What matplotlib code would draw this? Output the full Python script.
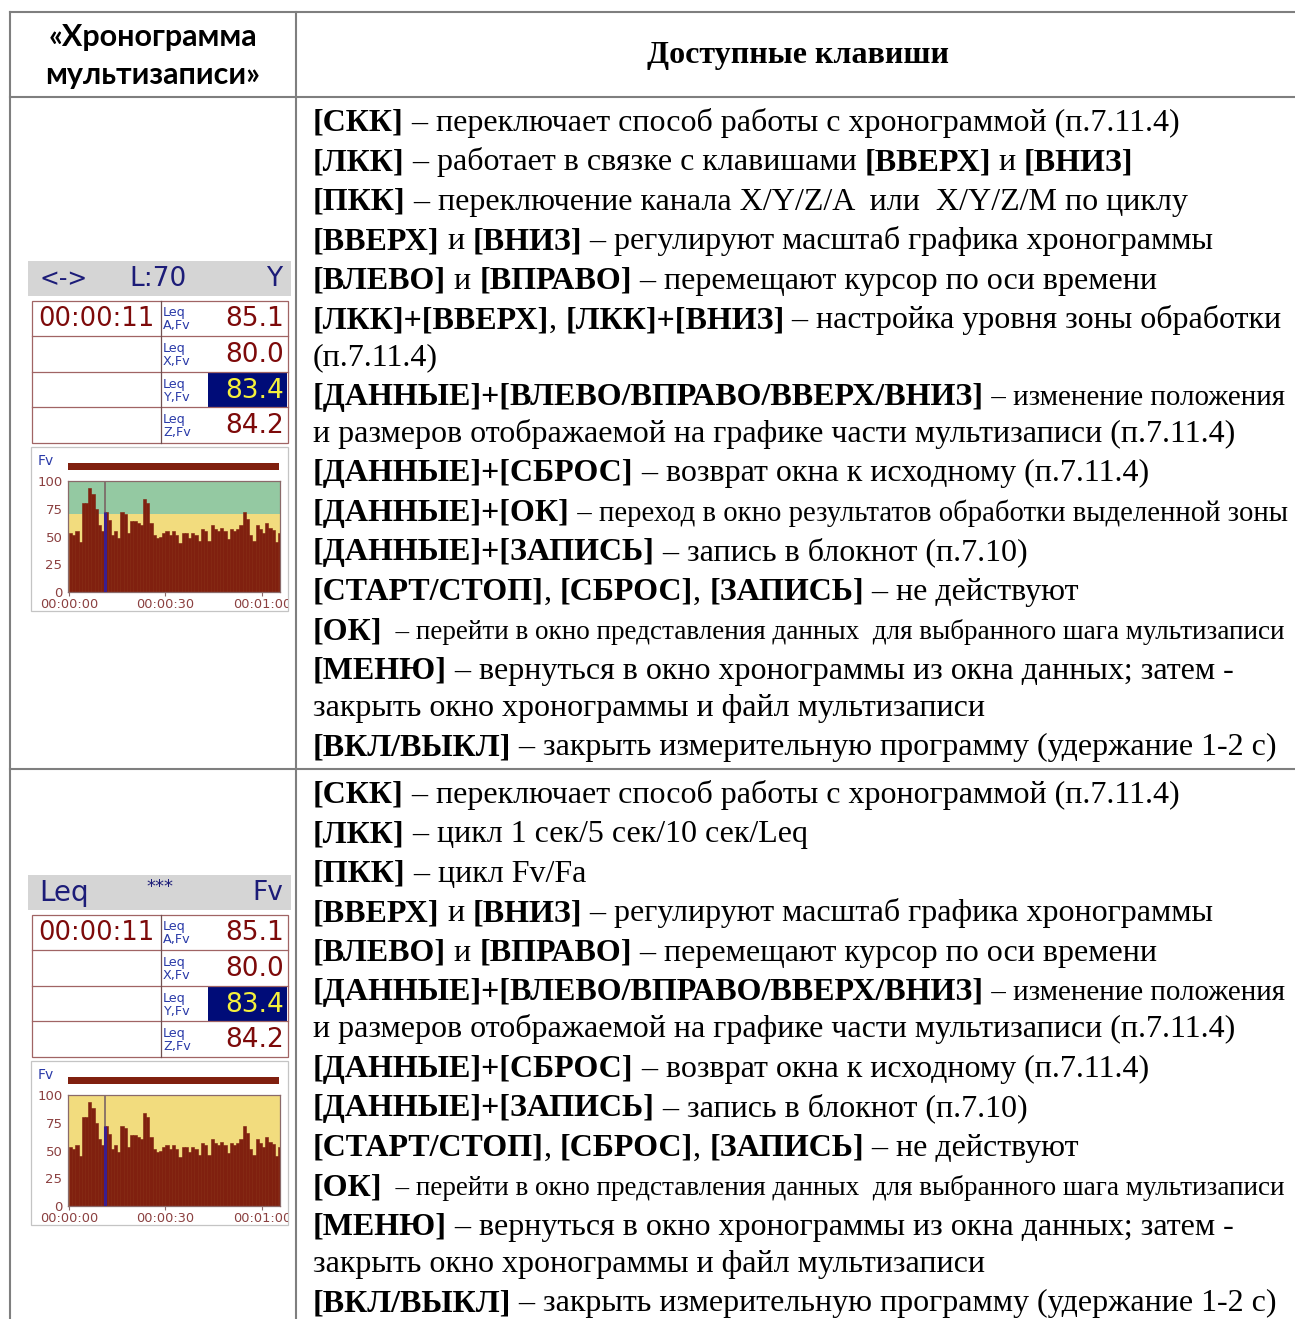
import matplotlib
matplotlib.use('Agg')
import matplotlib.pyplot as plt
from matplotlib.patches import Rectangle
from matplotlib.font_manager import FontProperties
from matplotlib.transforms import Bbox

# ---------------- data ----------------
header_left = ["«Хронограмма", "мультизаписи»"]
header_right = "Доступные клавиши"

B, R, C = 'b', 'r', 'c'
rows1 = [
    [("[СКК]", B), (" – переключает способ работы с хронограммой (п.7.11.4)", R)],
    [("[ЛКК]", B), (" – работает в связке с клавишами ", R), ("[ВВЕРХ]", B), (" и ", R), ("[ВНИЗ]", B)],
    [("[ПКК]", B), (" – переключение канала X/Y/Z/A  или  X/Y/Z/M по циклу", R)],
    [("[ВВЕРХ]", B), (" и ", R), ("[ВНИЗ]", B), (" – регулируют масштаб графика хронограммы", R)],
    [("[ВЛЕВО]", B), (" и ", R), ("[ВПРАВО]", B), (" – перемещают курсор по оси времени", R)],
    [("[ЛКК]+[ВВЕРХ]", B), (", ", R), ("[ЛКК]+[ВНИЗ]", B), (" – настройка уровня зоны обработки", R)],
    [("(п.7.11.4)", R)],
    [("[ДАННЫЕ]+[ВЛЕВО/ВПРАВО/ВВЕРХ/ВНИЗ]", B), (" – изменение положения", C)],
    [("и размеров отображаемой на графике части мультизаписи (п.7.11.4)", R)],
    [("[ДАННЫЕ]+[СБРОС]", B), (" – возврат окна к исходному (п.7.11.4)", R)],
    [("[ДАННЫЕ]+[ОК]", B), (" – переход в окно результатов обработки выделенной зоны", C)],
    [("[ДАННЫЕ]+[ЗАПИСЬ]", B), (" – запись в блокнот (п.7.10)", R)],
    [("[СТАРТ/СТОП]", B), (", ", R), ("[СБРОС]", B), (", ", R), ("[ЗАПИСЬ]", B), (" – не действуют", R)],
    [("[ОК]", B), ("  – перейти в окно представления данных  для выбранного шага мультизаписи", C)],
    [("[МЕНЮ]", B), (" – вернуться в окно хронограммы из окна данных; затем -", R)],
    [("закрыть окно хронограммы и файл мультизаписи", R)],
    [("[ВКЛ/ВЫКЛ]", B), (" – закрыть измерительную программу (удержание 1-2 с)", R)],
]
rows2 = [
    [("[СКК]", B), (" – переключает способ работы с хронограммой (п.7.11.4)", R)],
    [("[ЛКК]", B), (" – цикл 1 сек/5 сек/10 сек/Leq", R)],
    [("[ПКК]", B), (" – цикл Fv/Fa", R)],
    [("[ВВЕРХ]", B), (" и ", R), ("[ВНИЗ]", B), (" – регулируют масштаб графика хронограммы", R)],
    [("[ВЛЕВО]", B), (" и ", R), ("[ВПРАВО]", B), (" – перемещают курсор по оси времени", R)],
    [("[ДАННЫЕ]+[ВЛЕВО/ВПРАВО/ВВЕРХ/ВНИЗ]", B), (" – изменение положения", C)],
    [("и размеров отображаемой на графике части мультизаписи (п.7.11.4)", R)],
    [("[ДАННЫЕ]+[СБРОС]", B), (" – возврат окна к исходному (п.7.11.4)", R)],
    [("[ДАННЫЕ]+[ЗАПИСЬ]", B), (" – запись в блокнот (п.7.10)", R)],
    [("[СТАРТ/СТОП]", B), (", ", R), ("[СБРОС]", B), (", ", R), ("[ЗАПИСЬ]", B), (" – не действуют", R)],
    [("[ОК]", B), ("  – перейти в окно представления данных  для выбранного шага мультизаписи", C)],
    [("[МЕНЮ]", B), (" – вернуться в окно хронограммы из окна данных; затем -", R)],
    [("закрыть окно хронограммы и файл мультизаписи", R)],
    [("[ВКЛ/ВЫКЛ]", B), (" – закрыть измерительную программу (удержание 1-2 с)", R)],
]

# device screen data
screen_time = "00:00:11"
leq_labels = ["Leq\nA,Fv", "Leq\nX,Fv", "Leq\nY,Fv", "Leq\nZ,Fv"]
leq_values = ["85.1", "80.0", "83.4", "84.2"]
highlight_row = 2
header1 = ["<->", "L:70", "Y"]
header2 = ["Leq", "***", "Fv"]
zone_level = 70
cursor_t = 11
# chronogram (1 s bins)
chrono = [53, 51, 55, 45, 80, 80, 94, 88, 75, 60, 55, 72, 65, 51, 55, 49,
          72, 70, 53, 64, 64, 62, 60, 84, 80, 62, 51, 49, 50, 53, 55, 51,
          55, 51, 44, 53, 53, 49, 53, 51, 46, 57, 55, 46, 60, 57, 55, 58,
          55, 48, 57, 55, 57, 60, 72, 66, 51, 46, 60, 57, 53, 62, 58, 56,
          45, 53]
yticks = [0, 25, 50, 75, 100]
xticks = [0, 30, 60]
xticklabels = ["00:00:00", "00:00:30", "00:01:00"]

# ---------------- figure ----------------
W, H = 1295, 1319
fig = plt.figure(figsize=(W / 100, H / 100), dpi=100)
ax = fig.add_axes([0, 0, 1, 1])
ax.set_xlim(0, W)
ax.set_ylim(H, 0)
ax.axis('off')
renderer = fig.canvas.get_renderer()

SERIF = 'Liberation Serif'
SANS = 'DejaVu Sans'


def twidth(s, size, weight='normal', family=SERIF):
    fp = FontProperties(family=family, size=size, weight=weight)
    w1, _, _ = renderer.get_text_width_height_descent('|' + s + '|', fp, ismath=False)
    w0, _, _ = renderer.get_text_width_height_descent('||', fp, ismath=False)
    return w1 - w0


# table grid
LC = '#7f7f7f'
ax.plot([10, W], [12, 12], color=LC, lw=1.5)
ax.plot([10, W], [97, 97], color=LC, lw=1.5)
ax.plot([10, W], [769, 769], color=LC, lw=1.5)
ax.plot([10, 10], [12, H], color=LC, lw=1.5)
ax.plot([296, 296], [12, H], color=LC, lw=1.5)

# headers
hs = 20 * 209 / twidth(header_left[0], 20, 'bold', 'Lato')
ax.text(153, 37, header_left[0], fontsize=hs, fontweight='bold', family='Lato', ha='center', va='center')
ax.text(153, 75, header_left[1], fontsize=hs, fontweight='bold', family='Lato', ha='center', va='center')
hr = 20 * 302 / twidth(header_right, 20, 'bold')
ax.text(798, 56, header_right, fontsize=hr, fontweight='bold', family=SERIF, ha='center', va='center')

# body text
base = 20.0
l1 = sum(twidth(t, base, 'bold' if s == B else 'normal') for t, s in rows1[0])
FS = base * 867 / l1
FSPX = FS * 100 / 72
X0 = 313
RIGHT = 1286


def draw_lines(lines, y0):
    y = y0
    for i, line in enumerate(lines):
        if i > 0:
            y += 37 if line[0][1] == R else 39.5
        x = X0
        for t, s in line:
            if s == C:
                w = twidth(t, FS)
                size = FS * (RIGHT - x) / w
                ax.text(x, y + 0.33 * FSPX, t, fontsize=size, family=SERIF, va='baseline', ha='left')
                x = RIGHT
            else:
                wt = 'bold' if s == B else 'normal'
                ax.text(x, y + 0.33 * FSPX, t, fontsize=FS, family=SERIF, fontweight=wt, va='baseline', ha='left')
                x += twidth(t, FS, wt)


draw_lines(rows1, 120)
draw_lines(rows2, 792)

# ---------------- device screens ----------------
NAVY = '#1c1c78'
DRED = '#7d0a0a'
BLUE = '#2a3aa8'
BORD = '#a06464'
BAR = '#80200f'
GREEN = '#94c9a2'
YELLOW = '#f2dc7e'
TICKC = '#8b4040'


def draw_screen(dy, header, green, big_first):
    ax.add_patch(Rectangle((28, 261 + dy), 263, 35, color='#d5d5d5', lw=0))
    hy = 279 + dy
    ax.text(39, hy, header[0], fontsize=20 if big_first else 17, color=NAVY, family=SANS, ha='left', va='center')
    if big_first:
        ax.text(160, hy - 6, header[1], fontsize=13, color=NAVY, family=SANS, ha='center', va='center')
        ax.text(283, hy, header[2], fontsize=19, color=NAVY, family=SANS, ha='right', va='center')
    else:
        ax.text(158, hy, header[1], fontsize=19, color=NAVY, family=SANS, ha='center', va='center')
        ax.text(282, hy, header[2], fontsize=19, color=NAVY, family=SANS, ha='right', va='center')
    # value table
    top, bot, left, right, mid = 300.5 + dy, 443 + dy, 32, 287.5, 161
    rh = (bot - top) / 4
    ax.add_patch(Rectangle((208, top + 2 * rh + 1), right - 208 - 0.5, rh - 1.5, color='#000c78', lw=0))
    ax.add_patch(Rectangle((left, top), right - left, bot - top, fill=False, ec=BORD, lw=0.9))
    for k in range(1, 4):
        ax.plot([left, right], [top + k * rh] * 2, color=BORD, lw=0.9)
    ax.plot([mid, mid], [top, bot], color='#705050', lw=0.9)
    ax.text(96, top + rh / 2 + 1, screen_time, fontsize=18.5, color=DRED, family=SANS, ha='center', va='center')
    for k in range(4):
        ry = top + k * rh
        ax.text(163, ry + rh / 2 + 1, leq_labels[k], fontsize=9.2, color=BLUE, family=SANS,
                ha='left', va='center', linespacing=1.0)
        col = '#f5f03c' if k == highlight_row else DRED
        ax.text(284, ry + rh / 2 + 1, leq_values[k], fontsize=19, color=col, family=SANS, ha='right', va='center')
    # chart panel
    ax.add_patch(Rectangle((31, 447 + dy), 257, 164, fill=False, ec='#c4c4c4', lw=0.9))
    ax.text(38, 461 + dy, "Fv", fontsize=10, color=BLUE, family=SANS, ha='left', va='center')
    ax.add_patch(Rectangle((68, 463 + dy), 211, 7, color=BAR, lw=0))
    # chart axes
    x0p, x1p, y0p, y1p = 68, 280, 481 + dy, 592 + dy
    cax = fig.add_axes([x0p / W, 1 - y1p / H, (x1p - x0p) / W, (y1p - y0p) / H])
    cax.set_xlim(-0.3, 65.6)
    cax.set_ylim(0, 100)
    if green is not None:
        cax.axhspan(green, 100, color=GREEN, lw=0, zorder=0)
        cax.axhspan(0, green, color=YELLOW, lw=0, zorder=0)
    else:
        cax.axhspan(0, 100, color=YELLOW, lw=0, zorder=0)
    cax.bar(range(len(chrono)), chrono, width=1.0, align='edge', color=BAR,
            edgecolor=BAR, lw=0.4, zorder=1)
    cax.axvline(cursor_t + 0.1, color='#7a6464', lw=1.2, zorder=2)
    cax.vlines(cursor_t + 0.1, 0, chrono[cursor_t], color='#3a1e90', lw=2.2, zorder=3)
    for sp in cax.spines.values():
        sp.set_color('#8a6a6a')
        sp.set_linewidth(0.9)
    cax.set_yticks(yticks)
    cax.set_yticklabels([str(v) for v in yticks])
    cax.set_xticks(xticks)
    cax.set_xticklabels(xticklabels)
    cax.tick_params(axis='y', length=0, pad=4, labelsize=9.5, labelcolor=TICKC)
    cax.tick_params(axis='x', length=3, width=0.8, color='#8a6a6a', pad=1.0, labelsize=9.3, labelcolor=TICKC)
    clip = Bbox([[31, H - (611 + dy)], [287.5, H - (447 + dy)]])
    for lbl in cax.get_xticklabels():
        lbl.set_family(SANS)
        lbl.set_clip_on(True)
        lbl.set_clip_box(clip)


draw_screen(0, header1, zone_level, False)
draw_screen(614, header2, None, True)

fig.savefig('out.png', dpi=100)
